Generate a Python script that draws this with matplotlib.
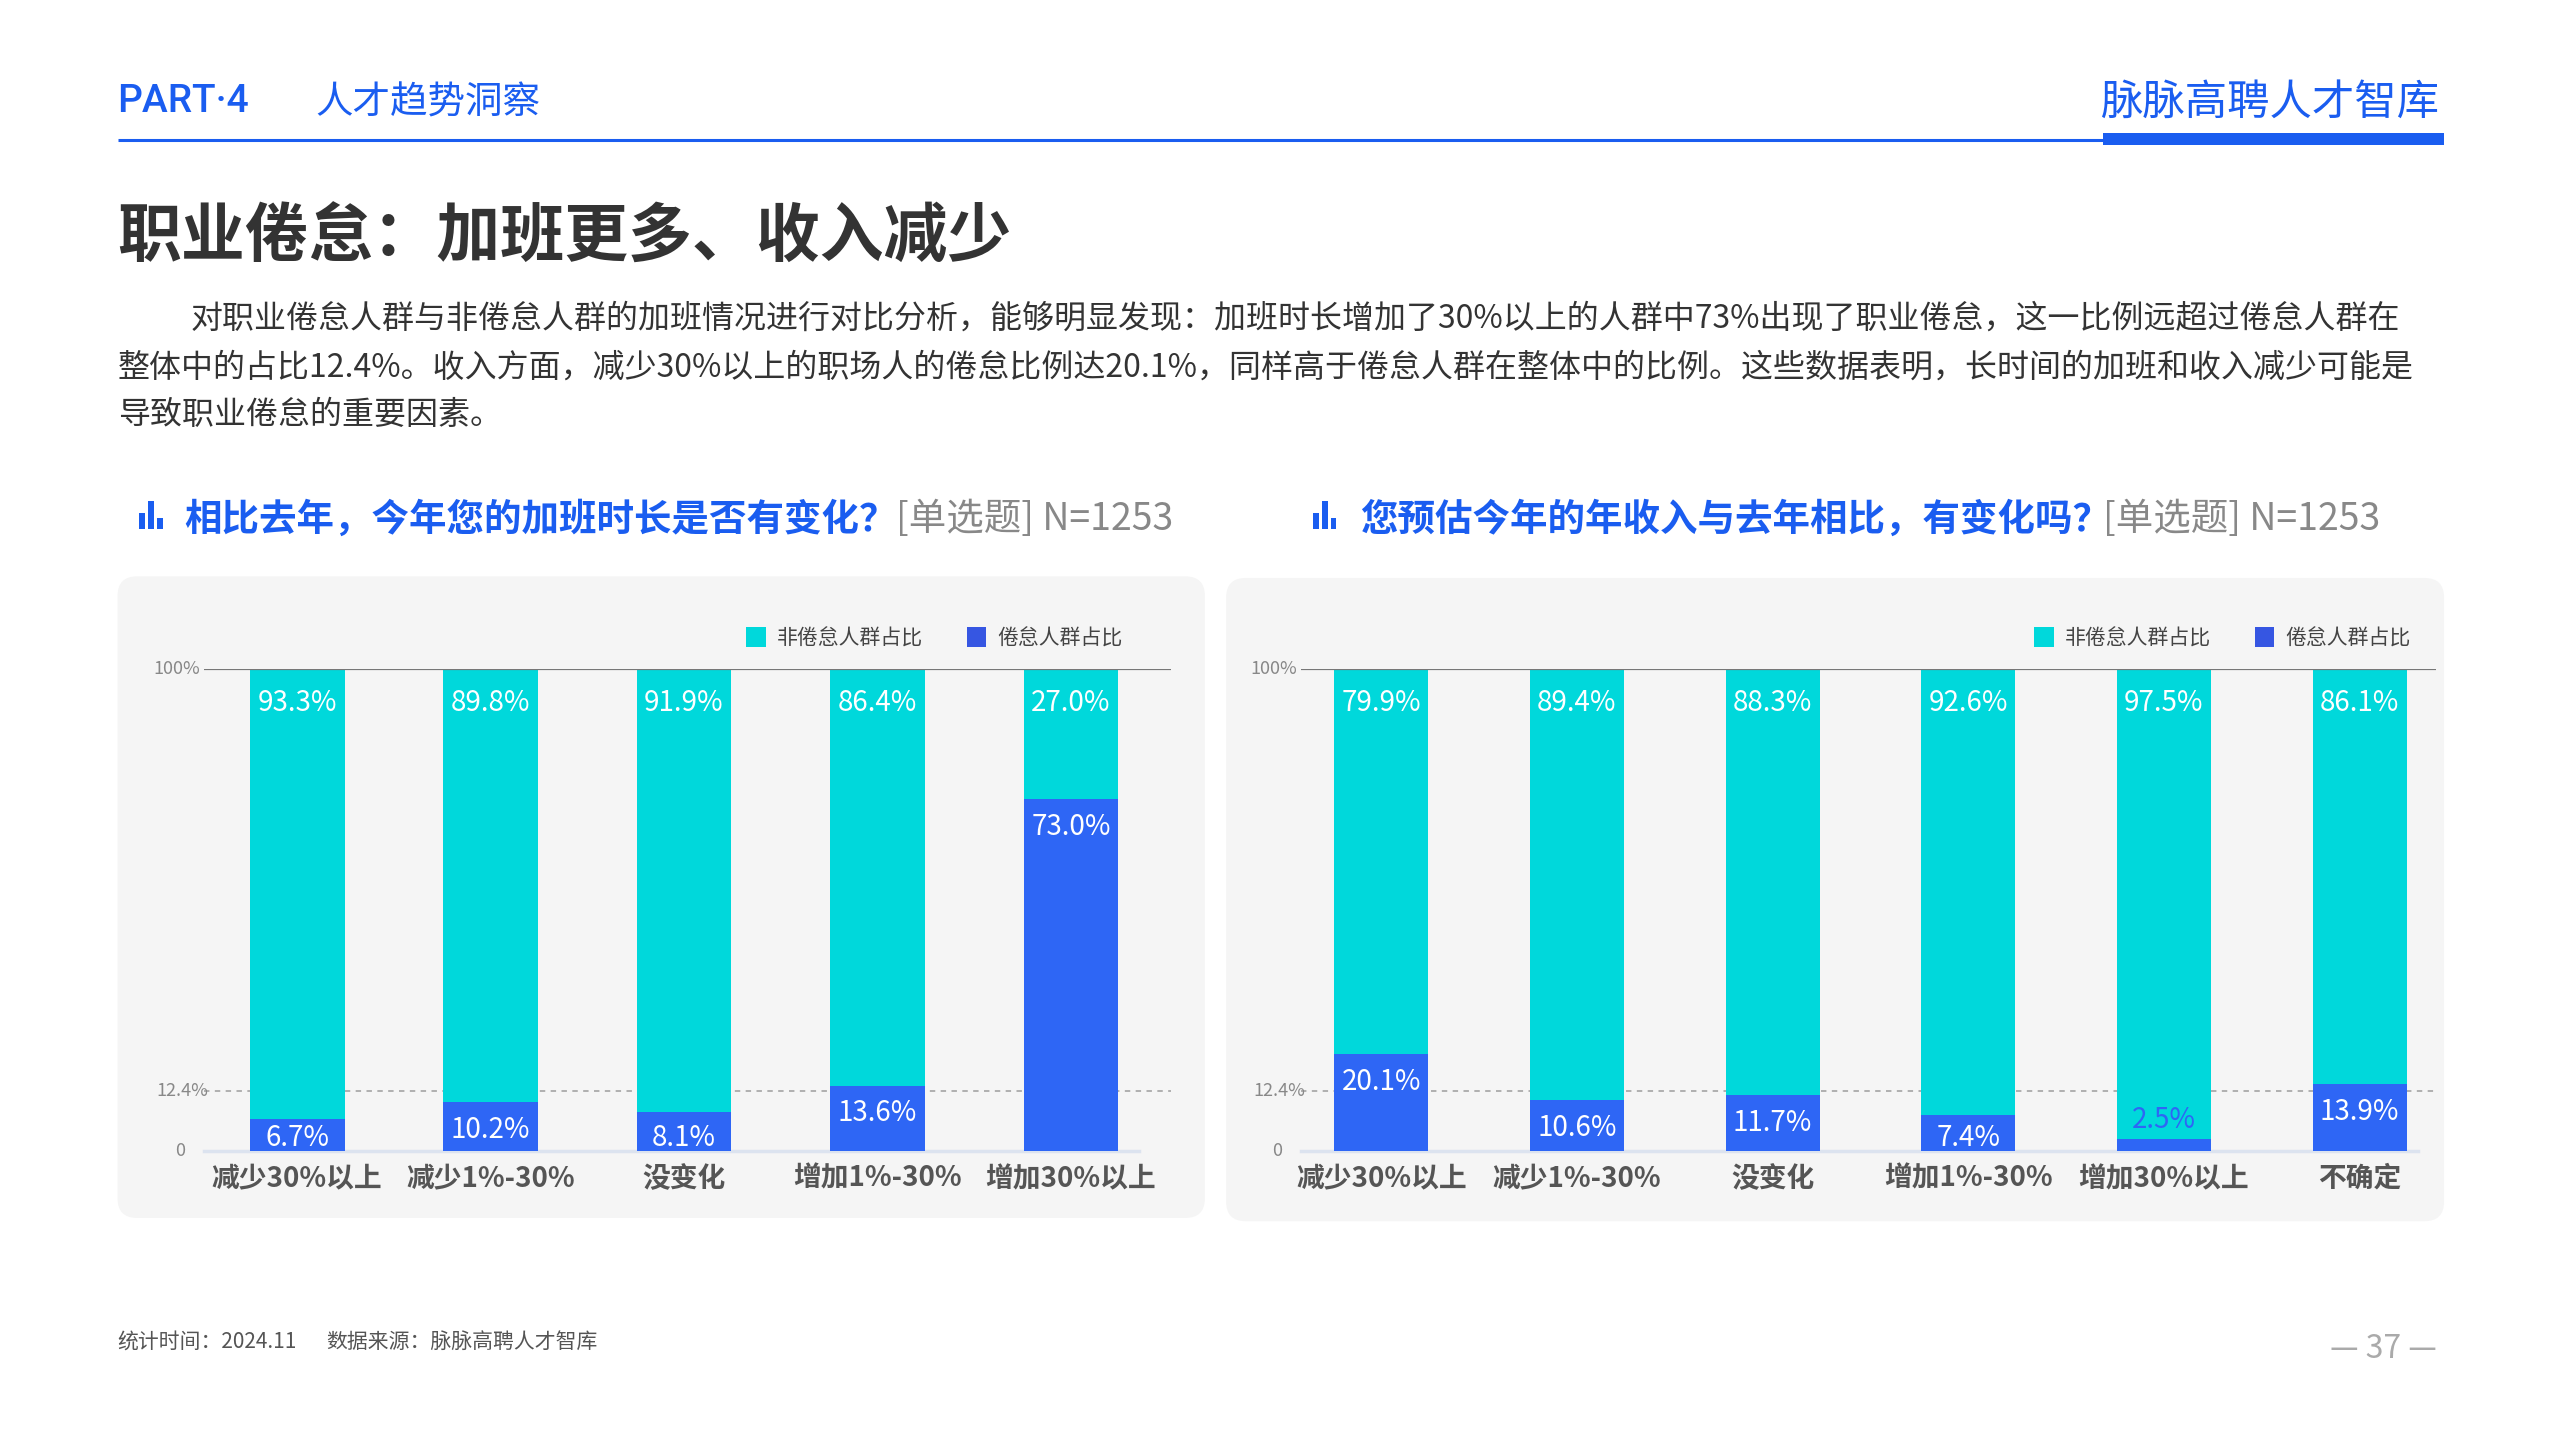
import matplotlib.pyplot as plt
from matplotlib.patches import FancyBboxPatch, Rectangle

plt.rcParams['font.family'] = ['Noto Sans CJK SC', 'DejaVu Sans']

# data
overtime_cats = ['减少30%以上', '减少1%-30%', '没变化', '增加1%-30%', '增加30%以上']
overtime_burnout = [6.7, 10.2, 8.1, 13.6, 73.0]
overtime_non = [93.3, 89.8, 91.9, 86.4, 27.0]

income_cats = ['减少30%以上', '减少1%-30%', '没变化', '增加1%-30%', '增加30%以上', '不确定']
income_burnout = [20.1, 10.6, 11.7, 7.4, 2.5, 13.9]
income_non = [79.9, 89.4, 88.3, 92.6, 97.5, 86.1]

overall_rate = 12.4
legend_labels = ['非倦怠人群占比', '倦怠人群占比']

CYAN = '#00d8db'
BLUE = '#2e66f5'
LEG_BLUE = '#3656e2'
HEAD_BLUE = '#1a5df0'

W, H = 1568, 882

fig = plt.figure(figsize=(25.6, 14.4), dpi=100)
fig.patch.set_facecolor('white')

# page layer in "screen" coordinates
bg = fig.add_axes([0, 0, 1, 1])
bg.set_xlim(0, W)
bg.set_ylim(H, 0)
bg.axis('off')

# header
bg.text(72, 62, 'PART·4', color=HEAD_BLUE, fontsize=28, fontweight='medium', va='center',
        family=['Roboto', 'DejaVu Sans'])
bg.text(193, 63, '人才趋势洞察', color=HEAD_BLUE, fontsize=27, va='center')
bg.text(1494, 63, '脉脉高聘人才智库', color=HEAD_BLUE, fontsize=30.5, va='center', ha='right')
bg.plot([72, 1290], [85.5, 85.5], color=HEAD_BLUE, lw=2.2, solid_capstyle='butt')
bg.add_patch(Rectangle((1288, 81.5), 209, 7.5, color=HEAD_BLUE, lw=0))

# title
bg.text(72, 146, '职业倦怠：加班更多、收入减少', color='#333333', fontsize=46,
        fontweight='bold', va='center')

body = [
    '对职业倦怠人群与非倦怠人群的加班情况进行对比分析，能够明显发现：加班时长增加了30%以上的人群中73%出现了职业倦怠，这一比例远超过倦怠人群在',
    '整体中的占比12.4%。收入方面，减少30%以上的职场人的倦怠比例达20.1%，同样高于倦怠人群在整体中的比例。这些数据表明，长时间的加班和收入减少可能是',
    '导致职业倦怠的重要因素。',
]
bg.text(117, 195, body[0], color='#333333', fontsize=23, va='center')
bg.text(72, 225, body[1], color='#333333', fontsize=23, va='center')
bg.text(72, 254, body[2], color='#333333', fontsize=23, va='center')


def icon(x, y):
    for dx, h in [(0, 10), (5.5, 17), (11, 7)]:
        bg.add_patch(Rectangle((x + dx, y - h), 3.6, h, color=HEAD_BLUE, lw=0))


icon(85, 324)
bg.text(113, 318, '相比去年，今年您的加班时长是否有变化？', color=HEAD_BLUE, fontsize=27,
        fontweight='bold', va='center')
bg.text(549, 318, '[单选题] N=1253', color='#888888', fontsize=27, fontweight='light', va='center')
icon(804, 324)
bg.text(833, 318, '您预估今年的年收入与去年相比，有变化吗？', color=HEAD_BLUE, fontsize=27,
        fontweight='bold', va='center')
bg.text(1288, 318, '[单选题] N=1253', color='#888888', fontsize=27, fontweight='light', va='center')

# panel backgrounds
for x0, x1, y0, y1 in [(72, 738, 353, 746), (751, 1497, 354, 748)]:
    bg.add_patch(FancyBboxPatch((x0, y0), x1 - x0, y1 - y0,
                                boxstyle='round,pad=0,rounding_size=12',
                                fc='#f5f5f5', ec='none'))

# footer
bg.text(72, 822, '统计时间：2024.11', color='#555555', fontsize=15, va='center')
bg.text(200, 822, '数据来源：脉脉高聘人才智库', color='#555555', fontsize=15, va='center')
bg.text(1460, 826, '— 37 —', color='#aaaaaa', fontsize=23, va='center', ha='center')


def legend(x_cyan, x_blue):
    bg.add_patch(Rectangle((x_cyan, 384), 12, 12, color=CYAN, lw=0))
    bg.text(x_cyan + 19, 391, legend_labels[0], color='#444444', fontsize=15, va='center')
    bg.add_patch(Rectangle((x_blue, 384), 12, 12, color=LEG_BLUE, lw=0))
    bg.text(x_blue + 19, 391, legend_labels[1], color='#444444', fontsize=15, va='center')


legend(457, 592)
legend(1246, 1381)


def panel(x0, x1, cats, burn, non, xlim, width, bottom_end):
    ax = fig.add_axes([x0 / W, 1 - 705 / H, (x1 - x0) / W, 295 / H])
    ax.patch.set_alpha(0)
    xs = list(range(len(cats)))
    ax.bar(xs, burn, width=width, color=BLUE, zorder=3)
    ax.bar(xs, non, bottom=burn, width=width, color=CYAN, zorder=3)
    ax.set_xlim(*xlim)
    ax.set_ylim(0, 100)
    for s in ax.spines.values():
        s.set_visible(False)
    ax.axhline(100, color='#777777', lw=1.6, zorder=4)
    ax.axhline(overall_rate, color='#aaaaaa', lw=1.3, ls=(0, (3, 3)), zorder=2)
    ax.plot([xlim[0], bottom_end], [0, 0], color='#dce3ef', lw=2.5, zorder=2, clip_on=False)
    ax.set_yticks([])
    ax.set_xticks(xs)
    ax.set_xticklabels(cats, fontsize=20, fontweight='bold', color='#555555')
    ax.tick_params(axis='x', length=0, pad=10)
    for lab, yv, dx in [('100%', 100, 0.02), (f'{overall_rate}%', overall_rate, -0.02), ('0', 0, 0.1)]:
        ax.text(xlim[0] - dx, yv, lab, ha='right', va='center', fontsize=13,
                color='#888888', fontweight='light')
    for x, b, n in zip(xs, burn, non):
        ax.text(x, 93.0, f'{n:.1f}%', ha='center', va='center', color='white',
                fontsize=20, fontweight='medium', zorder=5)
        if b < 5:
            ax.text(x, b + 4.0, f'{b:.1f}%', ha='center', va='center', color=BLUE,
                    fontsize=20, fontweight='medium', zorder=5)
        else:
            ax.text(x, max(b - 5.8, 2.8), f'{b:.1f}%', ha='center', va='center',
                    color='white', fontsize=20, fontweight='medium', zorder=5)
    return ax


panel(125, 717, overtime_cats, overtime_burnout, overtime_non, (-0.481, 4.515), 0.49, 4.35)
panel(797, 1492, income_cats, income_burnout, income_non, (-0.409, 5.39), 0.48, 5.3)

fig.savefig('out.png', dpi=100, facecolor='white')
